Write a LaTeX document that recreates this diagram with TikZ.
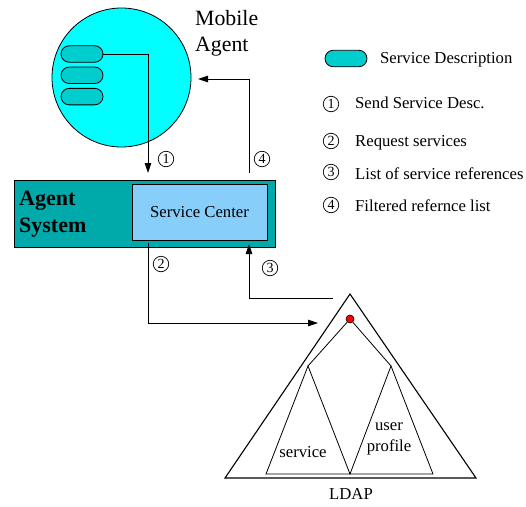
\documentclass[tikz,border=0pt]{standalone}
\usepackage{fontspec}
\setmainfont{Liberation Serif}
\usetikzlibrary{arrows.meta,shapes.misc}

\definecolor{agentcyan}{RGB}{0,255,255}
\definecolor{desccyan}{RGB}{0,206,206}
\definecolor{systeal}{RGB}{0,170,170}
\definecolor{centerblue}{RGB}{135,206,250}
\definecolor{dotred}{RGB}{255,0,0}

\tikzset{
  desc/.style={rounded rectangle, draw, line width=0.8pt, fill=desccyan,
    minimum width=42pt, minimum height=16.5pt, inner sep=0pt},
  flow/.style={line width=0.8pt, -{Triangle[length=10pt,width=6.5pt]}},
  num/.style={circle, draw, line width=0.7pt, minimum size=15.5pt, inner sep=0pt,
    font=\fontsize{14}{14}\selectfont},
  txt/.style={font=\fontsize{16.7}{20}\selectfont, inner sep=0pt},
  legend/.style={txt, anchor=base west},
  tree/.style={line width=0.8pt},
  bigtree/.style={line width=1.1pt}
}

\begin{document}
\begin{tikzpicture}[x=1pt, y=-1pt]
\useasboundingbox (0,0) rectangle (526,506);

% mobile agent with its service descriptions
\node[circle, draw, line width=0.8pt, fill=agentcyan, minimum size=139pt,
      inner sep=0pt] (agent) at (121.5,77.5) {};
\node[desc] (d1) at (82,54) {};
\node[desc] (d2) at (82,75.3) {};
\node[desc] (d3) at (82,96.6) {};
\node[anchor=north west, inner sep=0pt, align=left,
      font=\fontsize{21.8}{26.5}\selectfont] (mobile) at (195,10) {Mobile\\Agent};

% agent system with the service center
\node[draw, line width=0.8pt, fill=systeal, minimum width=261pt,
      minimum height=67pt, inner sep=0pt] (sys) at (144.5,213.5) {};
\node[anchor=north west, inner sep=0pt, align=left,
      font=\fontsize{22}{26.6}\selectfont\bfseries] (syslabel) at (19,191) {Agent\\System};
\node[draw, line width=0.8pt, fill=centerblue, minimum width=135pt,
      minimum height=56pt, inner sep=0pt, txt] (sc) at (199.5,212) {Service Center};

% connector end points
\coordinate (in1) at (148,173);
\coordinate (out4) at (249,173);
\coordinate (in4) at (198,79);
\coordinate (out2) at (148,243);
\coordinate (in2) at (318,323);
\coordinate (out3) at (333,298);
\coordinate (in3) at (249,244);

% message flow
\draw[flow] (d1.east) -| (in1);
\draw[flow] (out4) |- (in4);
\draw[flow] (out2) |- (in2);
\draw[flow] (out3) -| (in3);

\node[num] (n1) at (166,159) {1};
\node[num] (n4) at (262,159) {4};
\node[num] (n2) at (161,264) {2};
\node[num] (n3) at (270,268) {3};

% LDAP directory tree
\coordinate (top) at (350,294);
\coordinate (bl) at (225,478);
\coordinate (br) at (476,478);
\draw[bigtree] (top) -- (bl) -- (br) -- cycle;

\coordinate (lapex) at (308,366);
\coordinate (lbl) at (266,474);
\coordinate (mid) at (350,474);
\coordinate (rapex) at (391,366);
\coordinate (rbr) at (433,474);
\draw[tree] (lapex) -- (lbl) -- (mid) -- cycle;
\draw[tree] (rapex) -- (mid) -- (rbr) -- cycle;

\node[circle, draw, line width=0.6pt, fill=dotred, minimum size=8pt,
      inner sep=0pt] (root) at (350,319) {};
\draw[tree] (root) -- (lapex);
\draw[tree] (root) -- (rapex);

\node[txt] (svc) at (303,452) {service};
\node[txt, align=center, font=\fontsize{16.7}{21}\selectfont] (prof) at (389,439) {user\\profile};
\node[txt] (ldap) at (351,494) {LDAP};

% legend
\node[desc] (ldesc) at (346,58.5) {};
\node[legend] (tdesc) at (380,63) {Service Description};
\node[num] (l1) at (331,104) {1};
\node[legend] (t1) at (355,108) {Send Service Desc.};
\node[num] (l2) at (331,141) {2};
\node[legend] (t2) at (355,146.5) {Request services};
\node[num] (l3) at (331,172) {3};
\node[legend] (t3) at (355,179) {List of service references};
\node[num] (l4) at (331,205) {4};
\node[legend] (t4) at (355,211.5) {Filtered refernce list};
\end{tikzpicture}
\end{document}
